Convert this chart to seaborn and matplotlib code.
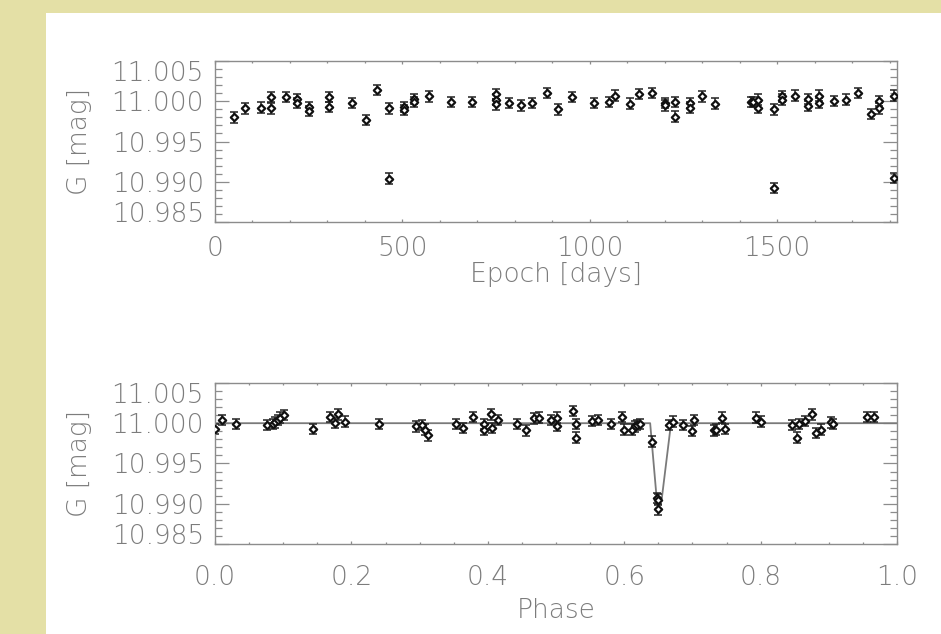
import matplotlib
matplotlib.use("Agg")
import matplotlib.pyplot as plt
from matplotlib.patches import Rectangle
from matplotlib.ticker import MultipleLocator, FixedLocator
import seaborn as sns
import pandas as pd

# Photometric time series: epoch (days) and G magnitude
epoch_days = [50, 81, 122, 149, 149, 189, 220, 220, 250, 250, 305, 305, 365, 404, 432,
              465, 465, 503, 503, 531, 531, 572, 631, 687, 749, 749, 749, 785, 816, 847,
              886, 915, 953, 1011, 1051, 1067, 1108, 1131, 1166, 1200, 1200, 1227, 1227,
              1268, 1268, 1300, 1334, 1430, 1436, 1448, 1448, 1491, 1491, 1513, 1513, 1547,
              1583, 1583, 1612, 1612, 1652, 1684, 1715, 1750, 1772, 1772, 1812, 1812]
epoch_mag = [10.9980, 10.9991, 10.9992, 11.0005, 10.9991, 11.0005, 11.0003, 10.9998,
             10.9993, 10.9988, 11.0005, 10.9993, 10.9998, 10.9977, 11.0014, 10.9991,
             10.9904, 10.9993, 10.9989, 11.0003, 10.9999, 11.0006, 10.9999, 10.9999,
             11.0009, 11.0002, 10.9996, 10.9998, 10.9995, 10.9998, 11.0010, 10.9990,
             11.0005, 10.9998, 10.9999, 11.0007, 10.9997, 11.0009, 11.0010, 10.9998,
             10.9995, 10.9999, 10.9981, 10.9998, 10.9992, 11.0006, 10.9997, 10.9999,
             10.9999, 11.0002, 10.9992, 10.9990, 10.9892, 11.0006, 11.0002, 11.0007,
             11.0003, 10.9994, 11.0007, 10.9998, 11.0000, 11.0002, 11.0010, 10.9984,
             11.0000, 10.9991, 11.0007, 10.9905]

# Same measurements folded on the orbital period
phase = [0.0005, 0.0103, 0.0304, 0.0762, 0.085, 0.088, 0.092, 0.096, 0.1007, 0.1437,
         0.169, 0.176, 0.180, 0.191, 0.240, 0.2947, 0.3035, 0.308, 0.312, 0.354,
         0.364, 0.378, 0.394, 0.394, 0.404, 0.406, 0.415, 0.443, 0.456, 0.467,
         0.475, 0.4927, 0.502, 0.502, 0.5245, 0.529, 0.529, 0.552, 0.561, 0.580,
         0.596, 0.5995, 0.611, 0.6158, 0.619, 0.623, 0.641, 0.648, 0.650, 0.650,
         0.666, 0.671, 0.686, 0.700, 0.702, 0.732, 0.734, 0.743, 0.748, 0.793,
         0.801, 0.8456, 0.854, 0.856, 0.865, 0.876, 0.881, 0.888, 0.903, 0.9066,
         0.9555, 0.9667]
phase_mag = [10.9993, 11.0004, 10.9999, 10.9998, 10.9999, 11.0001, 11.0004, 11.0007, 11.0010, 10.9993,
             11.0008, 11.0000, 11.0011, 11.0002, 10.9999, 10.9996, 10.9998, 10.9992, 10.9985, 10.9999,
             10.9994, 11.0008, 10.9999, 10.9992, 11.0011, 10.9994, 11.0004, 10.9999, 10.9991, 11.0006,
             11.0007, 11.0004, 11.0007, 10.9997, 11.0015, 10.9999, 10.9982, 11.0003, 11.0004, 10.9999,
             11.0008, 10.9992, 10.9992, 10.9996, 10.9998, 10.9999, 10.9977, 10.9907, 10.9905, 10.9893,
             10.9998, 11.0002, 10.9998, 10.9990, 11.0004, 10.9991, 10.9992, 11.0007, 10.9993, 11.0007,
             11.0002, 10.9998, 10.9982, 10.9999, 11.0003, 11.0011, 10.9988, 10.9992, 11.0001, 10.9999,
             11.0008, 11.0008]

# Eclipse model
model_phase = [0.0, 0.638, 0.6476, 0.655, 0.6686, 1.0]
model_mag = [11.0, 11.0, 10.9906, 10.9906, 11.0, 11.0]

mag_err = 0.00065
y_ticks = [11.005, 11.000, 10.995, 10.990, 10.985]
y_ticklabels = ["11.005", "11.000", "10.995", "10.990", "10.985"]
epoch_ticks = [0, 500, 1000, 1500]
phase_ticks = [0.0, 0.2, 0.4, 0.6, 0.8, 1.0]
phase_ticklabels = ["0.0", "0.2", "0.4", "0.6", "0.8", "1.0"]

sns.set_theme(style="ticks")
plt.rcParams["font.family"] = ["DejaVu Sans"]
plt.rcParams["font.weight"] = 200
plt.rcParams["axes.labelweight"] = 200

GREY = "#7c7c7c"
AXC = "#8c8c8c"
FS = 19

fig = plt.figure(figsize=(9.41, 6.34), dpi=100, facecolor="#e4e0a6")
fig.patches.append(Rectangle((46 / 941, 0), 1 - 46 / 941, 1 - 13 / 634,
                             transform=fig.transFigure, facecolor="white",
                             edgecolor="none", zorder=-10))

ax1 = fig.add_axes([0.2285, 0.6498, 0.7248, 0.2540])
ax2 = fig.add_axes([0.2285, 0.1420, 0.7248, 0.2540])

df_epoch = pd.DataFrame({"epoch": epoch_days, "mag": epoch_mag})
df_phase = pd.DataFrame({"phase": phase, "mag": phase_mag})
df_model = pd.DataFrame({"phase": model_phase, "mag": model_mag})

sns.lineplot(data=df_model, x="phase", y="mag", ax=ax2, color="#7a7a7a",
             lw=1.3, sort=False, estimator=None, zorder=1)

for ax, df, xcol in [(ax1, df_epoch, "epoch"), (ax2, df_phase, "phase")]:
    ax.errorbar(df[xcol], df["mag"], yerr=mag_err, fmt="none", ecolor="#222222",
                elinewidth=1.1, capsize=2.6, capthick=1.1, zorder=2)
    sns.scatterplot(data=df, x=xcol, y="mag", ax=ax, marker="D", s=14,
                    facecolor="white", edgecolor="#111111", linewidth=1.6,
                    zorder=3, legend=False)

ax1.set_xlim(0, 1820)
ax2.set_xlim(0, 1.0)
ax1.xaxis.set_major_locator(FixedLocator(epoch_ticks))
ax1.xaxis.set_minor_locator(MultipleLocator(100))
ax1.set_xticklabels([str(t) for t in epoch_ticks])
ax2.xaxis.set_major_locator(FixedLocator(phase_ticks))
ax2.xaxis.set_minor_locator(MultipleLocator(0.05))
ax2.set_xticklabels(phase_ticklabels)

for ax in (ax1, ax2):
    ax.set_ylim(10.985, 11.005)
    ax.yaxis.set_major_locator(FixedLocator(y_ticks))
    ax.yaxis.set_minor_locator(MultipleLocator(0.001))
    ax.set_yticklabels(y_ticklabels)
    for s in ax.spines.values():
        s.set_visible(True)
        s.set_color(AXC)
        s.set_linewidth(1.0)
    ax.tick_params(axis="both", which="both", direction="in", colors=AXC,
                   labelcolor=GREY, labelsize=FS, top=True, right=True, width=0.9)
    ax.tick_params(axis="y", which="major", length=9.8, pad=8)
    ax.tick_params(axis="y", which="minor", length=4.9)
    ax.tick_params(axis="x", which="minor", length=1.2)
    labels = ax.get_yticklabels()
    labels[0].set_va("top")
    labels[-1].set_va("baseline")
    ax.set_ylabel("G [mag]", fontsize=FS, color=GREY, labelpad=14)
    ax.set_facecolor("white")

ax1.tick_params(axis="x", which="major", length=2.4, pad=10)
ax2.tick_params(axis="x", which="major", length=2.4, pad=15)
ax1.set_xlabel("Epoch [days]", fontsize=FS, color=GREY, labelpad=1)
ax2.set_xlabel("Phase", fontsize=FS, color=GREY, labelpad=6)

fig.savefig("out.png", dpi=100, facecolor=fig.get_facecolor())
